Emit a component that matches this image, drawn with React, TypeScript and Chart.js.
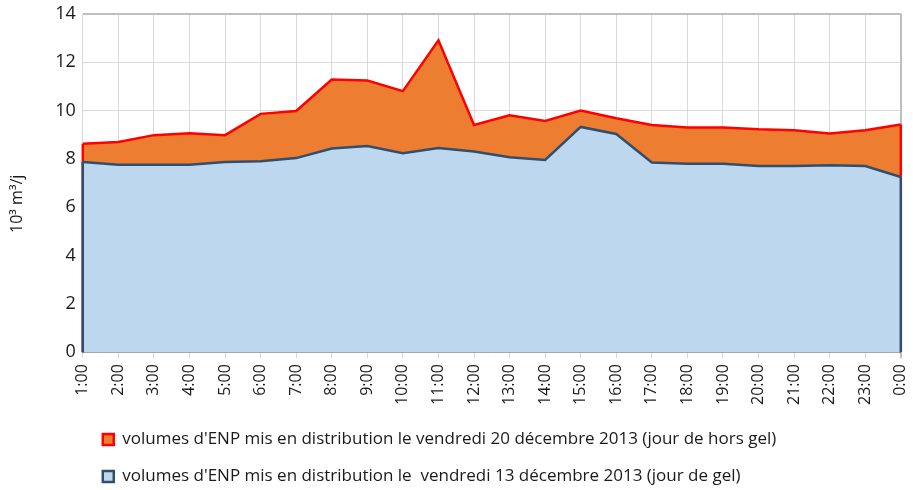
import React, { useEffect, useRef } from "react";
import { Chart, registerables } from "chart.js";

Chart.register(...registerables);

const hours = [
  "1:00", "2:00", "3:00", "4:00", "5:00", "6:00", "7:00", "8:00", "9:00", "10:00", "11:00", "12:00",
  "13:00", "14:00", "15:00", "16:00", "17:00", "18:00", "19:00", "20:00", "21:00", "22:00", "23:00", "0:00",
];

const horsGel = [
  8.62, 8.7, 8.98, 9.06, 8.98, 9.86, 9.98, 11.28, 11.24, 10.8, 12.9, 9.4,
  9.8, 9.57, 10.0, 9.68, 9.4, 9.3, 9.3, 9.22, 9.18, 9.05, 9.18, 9.42,
];

const gel = [
  7.87, 7.76, 7.76, 7.76, 7.87, 7.9, 8.03, 8.43, 8.53, 8.23, 8.45, 8.3,
  8.07, 7.95, 9.32, 9.03, 7.85, 7.8, 7.8, 7.7, 7.7, 7.73, 7.7, 7.25,
];

const yMin = 0;
const yMax = 14;
const yStep = 2;

const labelHorsGel = "volumes d'ENP mis en distribution le vendredi 20 décembre 2013 (jour de hors gel)";
const labelGel = "volumes d'ENP mis en distribution le  vendredi 13 décembre 2013 (jour de gel)";
const yTitle = "10³ m³/j";

const FONT = "'Open Sans', 'Noto Sans', sans-serif";

const edgePlugin = {
  id: "areaEdges",
  afterDatasetDraw(chart: any, args: any) {
    const meta = args.meta;
    const ds: any = chart.data.datasets[args.index];
    const pts = meta.data;
    if (!pts || pts.length === 0) return;
    const y0 = chart.scales.y.getPixelForValue(0);
    const ctx = chart.ctx;
    ctx.save();
    ctx.strokeStyle = ds.borderColor;
    ctx.lineWidth = ds.borderWidth;
    ctx.beginPath();
    const first = pts[0];
    const last = pts[pts.length - 1];
    ctx.moveTo(first.x, first.y);
    ctx.lineTo(first.x, y0);
    ctx.moveTo(last.x, last.y);
    ctx.lineTo(last.x, y0);
    ctx.stroke();
    ctx.restore();
  },
};

export default function App() {
  const ref = useRef<HTMLCanvasElement | null>(null);

  useEffect(() => {
    if (!ref.current) return;
    const chart = new Chart(ref.current, {
      type: "line",
      data: {
        labels: hours,
        datasets: [
          {
            label: labelHorsGel,
            data: horsGel,
            borderColor: "#FF0000",
            backgroundColor: "#ED7D31",
            borderWidth: 2.5,
            fill: "origin",
            pointRadius: 0,
            tension: 0,
            order: 2,
          },
          {
            label: labelGel,
            data: gel,
            borderColor: "#2F4F6F",
            backgroundColor: "#BDD7EE",
            borderWidth: 2.5,
            fill: "origin",
            pointRadius: 0,
            tension: 0,
            order: 1,
          },
        ],
      },
      options: {
        animation: false,
        responsive: true,
        maintainAspectRatio: false,
        layout: { padding: { top: 2, right: 2, left: 8, bottom: 4 } },
        plugins: {
          tooltip: { enabled: false },
          legend: {
            position: "bottom",
            align: "start",
            fullSize: false,
            labels: {
              sort: (a: any, b: any) => a.datasetIndex - b.datasetIndex,
              boxWidth: 11,
              boxHeight: 11,
              padding: 20,
              color: "#1a1a1a",
              font: { family: FONT, size: 17 },
            },
          },
        },
        scales: {
          x: {
            offset: false,
            grid: {
              color: (c: any) => (c.index === hours.length - 1 ? "#BFBFBF" : "#D9D9D9"),
              lineWidth: (c: any) => (c.index === hours.length - 1 ? 2 : 1),
              drawTicks: true,
              tickLength: 6,
            },
            border: { display: true, color: "#A6A6A6", width: 1 },
            ticks: {
              minRotation: 90,
              maxRotation: 90,
              autoSkip: false,
              color: "#1a1a1a",
              font: { family: FONT, size: 16 },
              padding: 6,
            },
          },
          y: {
            min: yMin,
            max: yMax,
            ticks: {
              stepSize: yStep,
              color: "#1a1a1a",
              font: { family: FONT, size: 18 },
              padding: 7,
            },
            grid: {
              color: (c: any) => (c.tick && c.tick.value === yMax ? "#BFBFBF" : "#D9D9D9"),
              lineWidth: (c: any) => (c.tick && c.tick.value === yMax ? 2 : 1),
              drawTicks: false,
            },
            border: { display: false },
            title: {
              display: true,
              text: yTitle + "\u00A0\u00A0\u00A0\u00A0\u00A0\u00A0\u00A0\u00A0\u00A0\u00A0",
              color: "#1a1a1a",
              font: { family: FONT, size: 16 },
              padding: { top: 0, bottom: 21 },
            },
          },
        },
      },
      plugins: [edgePlugin],
    });
    return () => chart.destroy();
  }, []);

  return (
    <div style={{ position: "fixed", left: 0, top: 0, width: 913, height: 490, overflow: "hidden", background: "#fff" }}>
      <div style={{ position: "absolute", left: 0, top: -4, width: 926, height: 503 }}>
        <canvas ref={ref} />
      </div>
    </div>
  );
}
